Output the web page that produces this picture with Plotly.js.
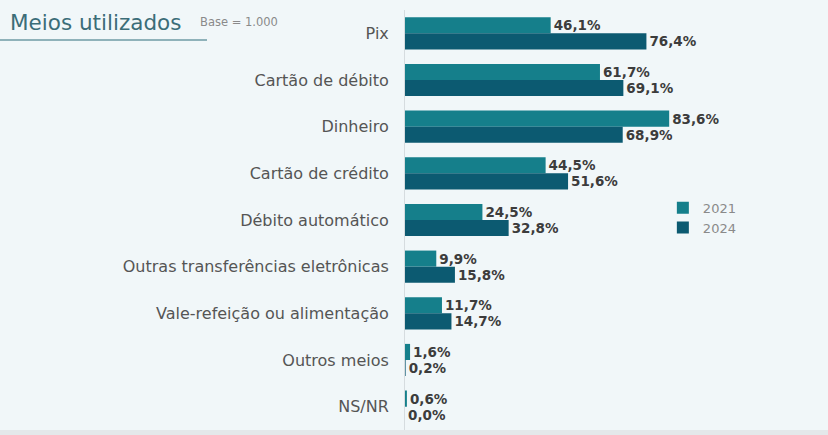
<!DOCTYPE html>
<html>
<head>
<meta charset="utf-8">
<script src="https://cdn.plot.ly/plotly-3.0.1.min.js"></script>
<style>
  html, body { margin: 0; padding: 0; background: #f1f7f9; }
  #chart { width: 828px; height: 435px; }
</style>
</head>
<body>
<div id="chart"></div>
<script>
var categorias = ['Pix', 'Cartão de débito', 'Dinheiro', 'Cartão de crédito', 'Débito automático',
    'Outras transferências eletrônicas', 'Vale-refeição ou alimentação', 'Outros meios', 'NS/NR'];
var valores2021 = [46.1, 61.7, 83.6, 44.5, 24.5, 9.9, 11.7, 1.6, 0.6];
var valores2024 = [76.4, 69.1, 68.9, 51.6, 32.8, 15.8, 14.7, 0.2, 0.0];
var anos = ['2021', '2024'];

var chart = document.getElementById('chart');

var labelFont = {family: 'DejaVu Sans', size: 13.5, color: '#3c3c3c', weight: 'bold'};

var trace2021 = {
    type: 'bar',
    orientation: 'h',
    name: anos[0],
    x: valores2021,
    y: categorias,
    marker: {color: '#157f8b'},
    texttemplate: '%{x:.1f}%',
    textposition: 'outside',
    constraintext: 'none',
    cliponaxis: false,
    textfont: labelFont,
    hoverinfo: 'none'
};

var trace2024 = {
    type: 'bar',
    orientation: 'h',
    name: anos[1],
    x: valores2024,
    y: categorias,
    marker: {color: '#0c5a71'},
    texttemplate: '%{x:.1f}%',
    textposition: 'outside',
    constraintext: 'none',
    cliponaxis: false,
    textfont: labelFont,
    hoverinfo: 'none'
};

var data = [trace2021, trace2024];

var layout = {
    width: 828,
    height: 435,
    margin: {l: 405, r: 107, t: 10, b: 5},
    paper_bgcolor: '#f1f7f9',
    plot_bgcolor: '#f1f7f9',
    separators: ',.',
    barmode: 'group',
    bargap: 0.31,
    bargroupgap: 0,
    font: {family: 'DejaVu Sans', color: '#555555'},
    showlegend: true,
    legend: {
        x: 0.816, y: 0.565, xanchor: 'left', yanchor: 'top',
        bgcolor: 'rgba(0,0,0,0)',
        font: {family: 'DejaVu Sans', size: 13, color: '#8a8a8a'},
        itemwidth: 30,
        traceorder: 'normal'
    },
    xaxis: {
        range: [0, 100],
        visible: false,
        fixedrange: true
    },
    yaxis: {
        autorange: 'reversed',
        showline: true,
        linecolor: '#d6dcdf',
        linewidth: 1,
        ticks: '',
        ticklabelstandoff: 12,
        tickfont: {family: 'DejaVu Sans', size: 16, color: '#555555'},
        fixedrange: true
    },
    shapes: [
        {
            type: 'line', xref: 'paper', yref: 'paper',
            x0: -405 / 316, x1: -198 / 316, y0: (435 - 40 - 5) / 420, y1: (435 - 40 - 5) / 420,
            line: {color: '#2e6f7c', width: 1.2}
        },
        {
            type: 'rect', xref: 'paper', yref: 'paper',
            x0: -405 / 316, x1: 423 / 316, y0: 0, y1: -5 / 420,
            fillcolor: '#e4e8ea', line: {width: 0}, layer: 'below'
        }
    ],
    annotations: [
        {
            text: 'Meios utilizados', xref: 'paper', yref: 'paper',
            x: -397 / 316, y: (435 - 22 - 5) / 420, xanchor: 'left', yanchor: 'middle',
            showarrow: false,
            font: {family: 'DejaVu Sans', size: 21.5, color: '#3b6d78'}
        },
        {
            text: 'Base = 1.000', xref: 'paper', yref: 'paper',
            x: -207 / 316, y: (435 - 22 - 5) / 420, xanchor: 'left', yanchor: 'middle',
            showarrow: false,
            font: {family: 'DejaVu Sans', size: 11.5, color: '#8a8a8a'}
        }
    ]
};

Plotly.newPlot(chart, data, layout, {displayModeBar: false, staticPlot: true});
</script>
</body>
</html>
